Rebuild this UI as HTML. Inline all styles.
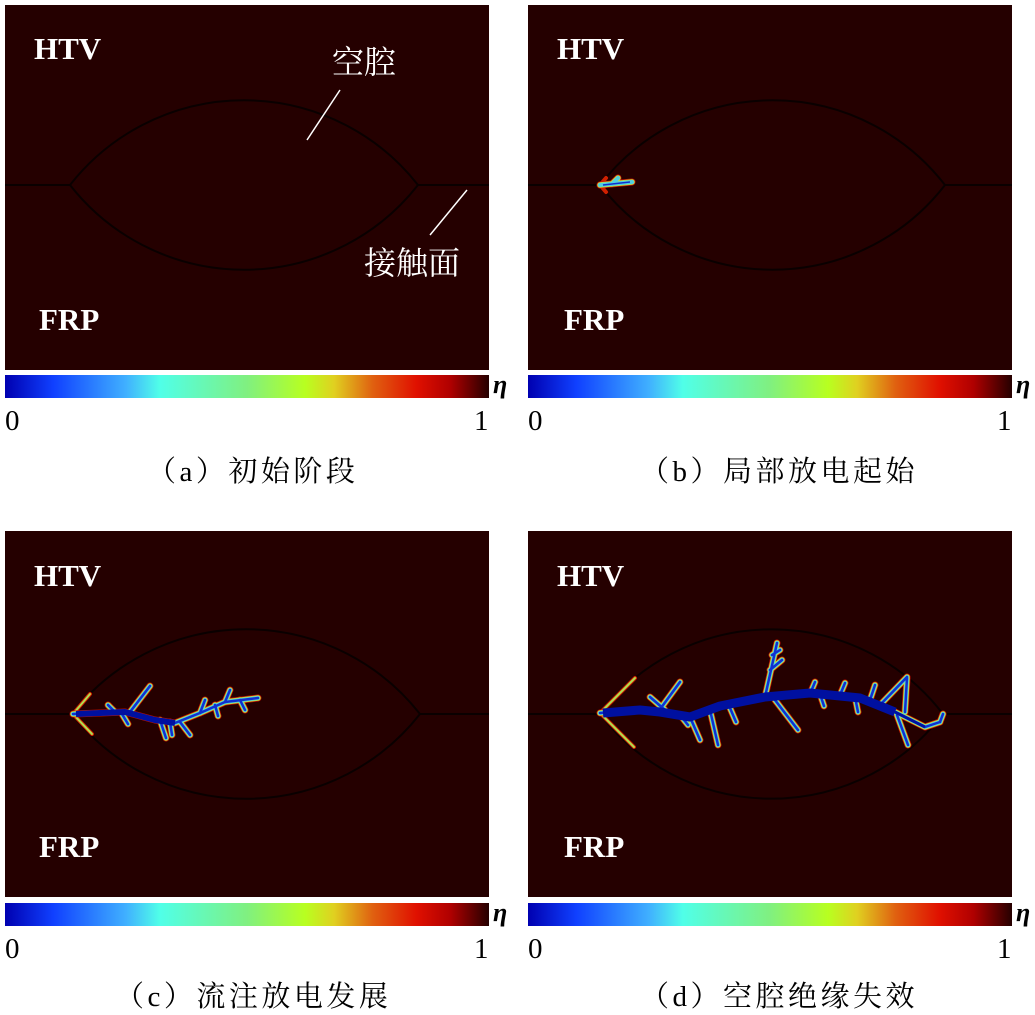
<!DOCTYPE html>
<html><head><meta charset="utf-8"><style>
body{margin:0;background:#fff;}
svg{display:block;}
</style></head><body>
<svg width="1035" height="1015" viewBox="0 0 1035 1015" xmlns="http://www.w3.org/2000/svg">
<defs>
<linearGradient id="jet" x1="0" x2="1" y1="0" y2="0">
<stop offset="0" stop-color="#0000b0"/>
<stop offset="0.1" stop-color="#1040ff"/>
<stop offset="0.25" stop-color="#40b0ff"/>
<stop offset="0.32" stop-color="#50ffe8"/>
<stop offset="0.5" stop-color="#80f080"/>
<stop offset="0.62" stop-color="#b8ff20"/>
<stop offset="0.68" stop-color="#e0d020"/>
<stop offset="0.76" stop-color="#e06010"/>
<stop offset="0.85" stop-color="#e01000"/>
<stop offset="0.92" stop-color="#b00000"/>
<stop offset="1" stop-color="#250000"/>
</linearGradient>
<g id="sc">
<path d="M73,714 L100,713 L125,712 L155,720 L175,723 L200,713 L225,702 L258,698"/>
<path d="M130,712 L150,686 M122,714 L128,724 M160,720 L166,738 M180,722 L190,735 M200,713 L205,700 M225,702 L230,690 M240,700 L245,710 M215,705 L218,716 M170,722 L172,735 M115,712 L108,705"/>
</g>
<g id="sd">
<path d="M600,713 L640,710 L660,712 L690,717 L720,706 L765,697 L810,693 L860,698 L895,712 L925,727 L940,722"/>
<path d="M765,697 L777,643 M770,670 L782,660 M772,655 L780,650 M775,700 L798,730 M905,712 L907,678 M880,705 L907,677 M897,715 L908,745 M658,712 L680,682 M665,710 L650,697 M690,717 L700,740 M710,710 L718,745 M730,708 L736,722 M810,694 L815,682 M840,695 L845,683 M870,700 L875,685 M855,697 L858,712 M820,694 L824,706 M680,715 L688,725 M940,722 L943,714"/>
</g>
<style>
.r{fill:none;stroke:#d01000;stroke-width:7;stroke-linecap:round;stroke-linejoin:round;opacity:.9}
.y{fill:none;stroke:#c0e040;stroke-width:5.5;stroke-linecap:round;stroke-linejoin:round}
.c{fill:none;stroke:#50d0e0;stroke-width:4;stroke-linecap:round;stroke-linejoin:round}
.b{fill:none;stroke:#1030d0;stroke-width:2.5;stroke-linecap:round;stroke-linejoin:round}
.v1{fill:none;stroke:#d02000;stroke-width:4;stroke-linecap:round}
.v2{fill:none;stroke:#b0e050;stroke-width:2;stroke-linecap:round}
</style>
</defs>
<rect x="5" y="5" width="484" height="365" fill="#250000"/>
<rect x="528" y="5" width="484" height="365" fill="#250000"/>
<rect x="5" y="531" width="484" height="366" fill="#250000"/>
<rect x="528" y="531" width="484" height="366" fill="#250000"/>
<g fill="none" stroke="#0a0000" stroke-width="2">
<path d="M5,185 L70,185 A221,221 0 0 1 418,185 L489,185 M70,185 A221,221 0 0 0 418,185"/>
<path d="M528,185 L600,185 A218,218 0 0 1 945,185 L1012,185 M600,185 A218,218 0 0 0 945,185"/>
<path d="M5,714 L72,714 A221,221 0 0 1 420,714 L489,714 M72,714 A221,221 0 0 0 420,714"/>
<path d="M528,714 L600,714 A216,216 0 0 1 943,714 L1012,714 M600,714 A216,216 0 0 0 943,714"/>
</g>
<path d="M600,185 L606,178 M600,185 L606,192" class="v1"/>
<path d="M600,185 L632,182 M612,184 L618,178" class="r"/>
<path d="M600,185 L632,182 M612,184 L618,178" class="y"/>
<path d="M600,185 L632,182 M612,184 L618,178" class="c"/>
<path d="M603,185 L630,182" fill="none" stroke="#1030d0" stroke-width="1.5"/>
<path d="M73,714 L90,694 M73,714 L92,734" class="v1"/><path d="M73,714 L90,694 M73,714 L92,734" class="v2"/>
<use href="#sc" class="r"/><use href="#sc" class="y"/><use href="#sc" class="c"/><use href="#sc" class="b"/>
<path d="M76,714 L100,713 L125,712 L155,720 L175,723" fill="none" stroke="#0010a0" stroke-width="6" stroke-linejoin="round"/>
<path d="M600,713 L635,678 M600,713 L634,747" class="v1"/><path d="M600,713 L635,678 M600,713 L634,747" class="v2"/>
<use href="#sd" class="r"/><use href="#sd" class="y"/><use href="#sd" class="c"/><use href="#sd" class="b"/>
<path d="M603,713 L640,710 L660,712 L690,717 L720,706 L765,697 L810,693 L860,698 L895,712" fill="none" stroke="#0010a0" stroke-width="9" stroke-linejoin="round"/>
<path d="M895,712 L925,727" fill="none" stroke="#0010a0" stroke-width="3"/>
<g font-family="Liberation Serif, Times New Roman, serif" fill="#fff" font-size="31" font-weight="bold">
<text x="34" y="59">HTV</text><text x="557" y="59">HTV</text>
<text x="34" y="586">HTV</text><text x="557" y="586">HTV</text>
<text x="39" y="330">FRP</text><text x="564" y="330">FRP</text>
<text x="39" y="857">FRP</text><text x="564" y="857">FRP</text>
</g>
<g font-family="Liberation Serif, Noto Serif CJK SC, serif" fill="#fff" font-size="32">
<text x="332" y="73">空腔</text>
<text x="364" y="274">接触面</text>
</g>
<g stroke="#fff" stroke-width="1.5">
<line x1="340" y1="90" x2="307" y2="140"/>
<line x1="467" y1="190" x2="430" y2="235"/>
</g>
<rect x="5" y="375" width="484" height="23" fill="url(#jet)"/>
<rect x="528" y="375" width="484" height="23" fill="url(#jet)"/>
<rect x="5" y="903" width="484" height="23" fill="url(#jet)"/>
<rect x="528" y="903" width="484" height="23" fill="url(#jet)"/>
<g font-family="Liberation Serif, Times New Roman, serif" fill="#000" font-size="29">
<text x="5" y="430">0</text><text x="474" y="430">1</text>
<text x="528" y="430">0</text><text x="997" y="430">1</text>
<text x="5" y="958">0</text><text x="474" y="958">1</text>
<text x="528" y="958">0</text><text x="997" y="958">1</text>
<g font-style="italic" font-weight="bold" font-size="26">
<text x="493" y="393">η</text><text x="1016" y="393">η</text>
<text x="493" y="921">η</text><text x="1016" y="921">η</text>
</g>
</g>
<g font-family="Liberation Serif, Noto Serif CJK SC, serif" fill="#000" font-size="29" letter-spacing="3.5">
<text x="147" y="481">（a）初始阶段</text>
<text x="640" y="481">（b）局部放电起始</text>
<text x="115" y="1006">（c）流注放电发展</text>
<text x="640" y="1006">（d）空腔绝缘失效</text>
</g>
</svg>
</body></html>
